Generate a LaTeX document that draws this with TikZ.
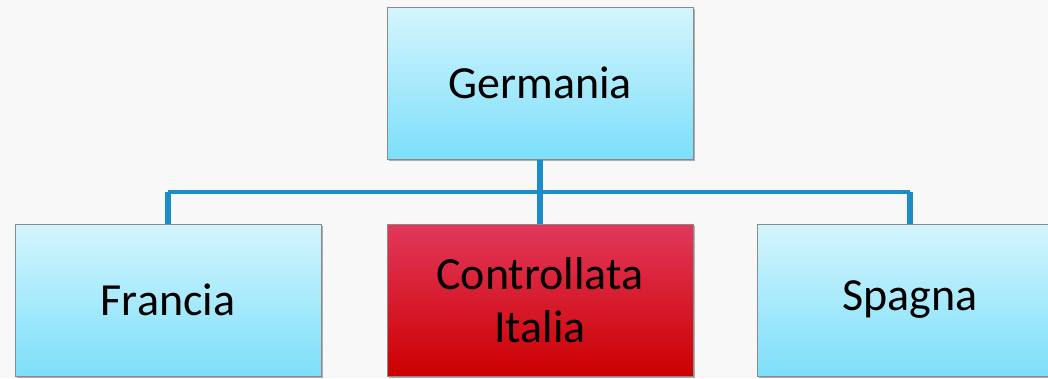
\documentclass[tikz,border=0pt]{standalone}
\usepackage{fontspec}
\setmainfont{Carlito}
\usetikzlibrary{shadows}
\definecolor{bg}{HTML}{F8F8F8}
\definecolor{blueT}{HTML}{D4F5FD}
\definecolor{blueB}{HTML}{7CDFFA}
\definecolor{redT}{HTML}{E2385C}
\definecolor{redB}{HTML}{CC0000}
\definecolor{linkc}{HTML}{1A8CC8}
\definecolor{edgec}{HTML}{8A8A8A}
\tikzset{
  x=1pt,y=1pt,
  orgbox/.style={rectangle, minimum width=306pt, minimum height=152pt, inner sep=0pt,
    draw=edgec, line width=1pt, font=\fontsize{46}{56}\selectfont, align=center,
    drop shadow={shadow xshift=2pt, shadow yshift=-2pt, fill=gray!70, opacity=0.9}},
  bluebox/.style={orgbox, top color=blueT, bottom color=blueB},
  redbox/.style={orgbox, top color=redT, bottom color=redB},
  link/.style={draw=linkc, line width=5.5pt},
  hlink/.style={draw=linkc, line width=4pt},
}
\begin{document}
\begin{tikzpicture}
\useasboundingbox (0,0) rectangle (1048,-378);
\clip (0,0) rectangle (1048,-378);
\fill[bg] (0,0) rectangle (1048,-378);
\coordinate (hl) at (168,-192);
\coordinate (hm) at (540,-192);
\coordinate (hr) at (910,-192);
\draw[hlink] (hl) -- (hr);
\node[bluebox] (ger) at (540,-83) {Germania};
\node[bluebox] (fra) at (168,-300) {Francia};
\node[redbox] (ita) at (540,-300) {Controllata\\[-3pt]Italia};
\node[bluebox] (spa) at (910,-300) {Spagna};
\draw[link] (ger.south) -- (hm) -- (ita.north);
\draw[link] (hl) -- (fra.north);
\draw[link] (hr) -- (spa.north);
\end{tikzpicture}
\end{document}
